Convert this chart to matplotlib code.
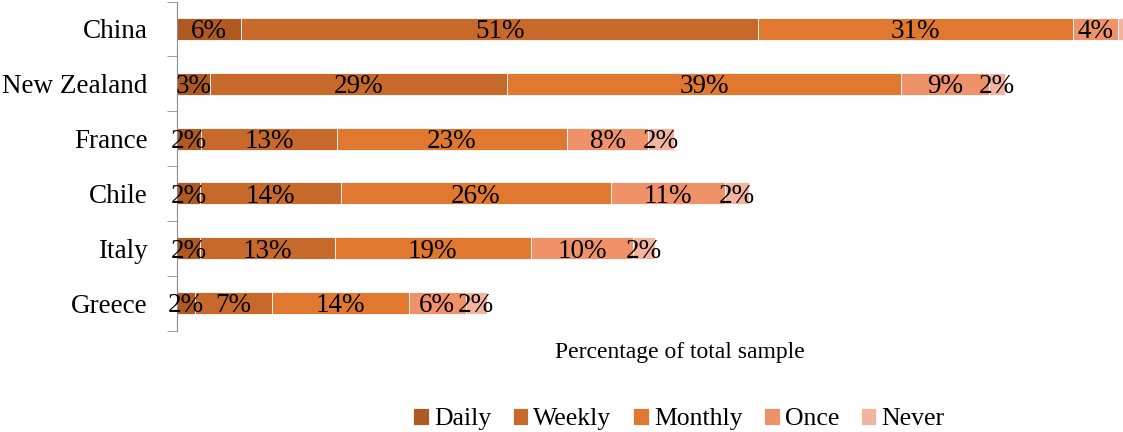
import matplotlib
matplotlib.use('Agg')
import matplotlib.pyplot as plt
import numpy as np

plt.rcParams['font.family'] = ['Liberation Serif', 'DejaVu Serif']

# ── DONNÉES ───────────────────────────────────────────────
countries = ["China", "New Zealand", "France", "Chile", "Italy", "Greece"]
freq      = ["Daily", "Weekly", "Monthly", "Once", "Never"]

daily   = [6.3, 3.2, 2.4, 2.3, 2.3, 1.8]
weekly  = [50.9, 29.3, 13.3, 13.8, 13.2, 7.5]
monthly = [31.0, 38.7, 22.7, 26.6, 19.3, 13.5]
once    = [4.4, 8.7, 8.0, 11.2, 10.1, 5.6]
never   = [1.0, 1.6, 2.5, 2.4, 2.1, 2.1]

lab_daily   = ["6%", "3%", "2%", "2%", "2%", "2%"]
lab_weekly  = ["51%", "29%", "13%", "14%", "13%", "7%"]
lab_monthly = ["31%", "39%", "23%", "26%", "19%", "14%"]
lab_once    = ["4%", "9%", "8%", "11%", "10%", "6%"]
lab_never   = ["", "2%", "2%", "2%", "2%", "2%"]

colors = ["#AF5A23", "#C8692C", "#E07830", "#F09269", "#F3B4A0"]

series = [daily, weekly, monthly, once, never]
labels = [lab_daily, lab_weekly, lab_monthly, lab_once, lab_never]

# ── FIGURE ────────────────────────────────────────────────
fig = plt.figure(figsize=(11.23, 4.32), dpi=100)
W, H = 1123, 432
ax = fig.add_axes([177 / W, 1 - 330.5 / H, 1006 / W, 329 / H])

y = np.arange(len(countries))[::-1]
left = np.zeros(len(countries))
for vals, labs, col, name in zip(series, labels, colors, freq):
    vals = np.array(vals)
    ax.barh(y, vals, left=left, height=0.4, color=col,
            edgecolor="white", linewidth=0.6, label=name)
    # étiquettes centrées dans chaque segment
    for yi, l, v, t in zip(y, left, vals, labs):
        if t:
            ax.annotate(t, (l + v / 2, yi), xytext=(0, -2),
                        textcoords="offset points", ha="center", va="center",
                        fontsize=19.5, color="black")
    left += vals

ax.set_xlim(0, 99)
ax.set_ylim(-0.5, len(countries) - 0.5)
ax.set_yticks(y)
ax.set_yticklabels(countries, fontsize=19.5)
ax.set_yticks(np.arange(-0.5, len(countries)), minor=True)
ax.tick_params(axis="y", which="major", length=0, pad=21)
ax.tick_params(axis="y", which="minor", length=7, color="#8c8c8c",
               direction="out")
ax.set_xticks([])
for s in ["top", "right", "bottom"]:
    ax.spines[s].set_visible(False)
ax.spines["left"].set_color("#8c8c8c")
ax.set_xlabel("Percentage of total sample", fontsize=17, labelpad=8)

fig.legend(loc="lower center", bbox_to_anchor=(679 / W, -0.05), ncol=5,
           frameon=False, fontsize=18.5, handlelength=0.6, handleheight=0.6,
           handletextpad=0.2, columnspacing=0.85)

plt.savefig("out.png", dpi=100)
plt.close()
